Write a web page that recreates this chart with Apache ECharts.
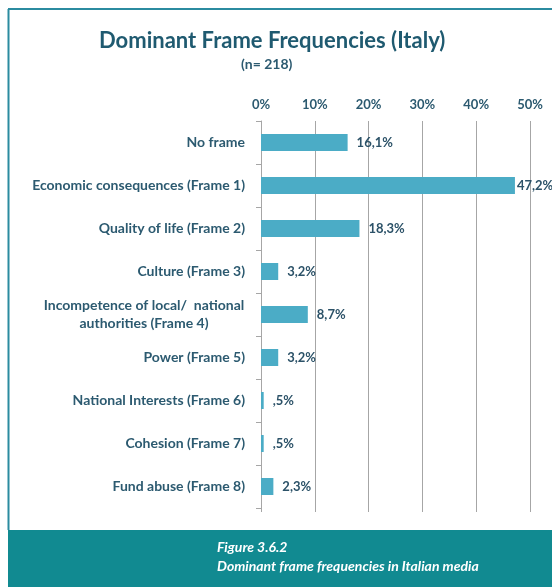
<!DOCTYPE html>
<html><head><meta charset="utf-8">
<script src="https://cdn.jsdelivr.net/npm/echarts@6/dist/echarts.min.js"></script>
<style>html,body{margin:0;padding:0;background:#fff}#c{width:552px;height:587px}</style>
</head><body><div id="c"></div>
<script>
const categories = [
  "No frame",
  "Economic consequences (Frame 1)",
  "Quality of life (Frame 2)",
  "Culture (Frame 3)",
  "Incompetence of local/  national\nauthorities (Frame 4)",
  "Power (Frame 5)",
  "National Interests (Frame 6)",
  "Cohesion (Frame 7)",
  "Fund abuse (Frame 8)"
];
const values = [16.1, 47.2, 18.3, 3.2, 8.7, 3.2, 0.5, 0.5, 2.3];
const tickValues = [0, 10, 20, 30, 40, 50];
const titleText = "Dominant Frame Frequencies (Italy)";
const subtitleText = "(n= 218)";
const figureLabel = "Figure 3.6.2";
const figureCaption = "Dominant frame frequencies in Italian media";

const FONT = "Lato";
const labelColor = "#2c5a70";
const maxV = Math.max(...values);
function fmt(v){ let s = v.toFixed(1).replace('.', ','); if (s.startsWith('0')) s = s.slice(1); return s + '%'; }

const chart = echarts.init(document.getElementById('c'), null, {renderer:'canvas'});
chart.setOption({
  animation:false,
  backgroundColor:'#fff',
  title:[
    {text:titleText, left:94, top:25, textStyle:{fontFamily:FONT, fontSize:22, fontWeight:'bold', color:'#1f5a70'}},
    {text:subtitleText, left:236, top:52, textStyle:{fontFamily:FONT, fontSize:14, fontWeight:'bold', color:'#2c5a70'}}
  ],
  grid:{left:261, right:22, top:121, bottom:79, containLabel:false},
  xAxis:[{
    type:'value', position:'top', min:tickValues[0], max:tickValues[tickValues.length-1], interval:10,
    axisLine:{show:false}, axisTick:{show:false},
    axisLabel:{formatter:'{value}%', margin:10, fontFamily:FONT, fontSize:13, fontWeight:'bold', color:labelColor},
    splitLine:{show:true, lineStyle:{color:'#a6a6a6', width:1}}
  },{
    type:'value', position:'bottom', min:tickValues[0], max:tickValues[tickValues.length-1], interval:10,
    axisLine:{show:false}, axisLabel:{show:false}, splitLine:{show:false},
    axisTick:{show:true, length:4, lineStyle:{color:'#a6a6a6'}}
  }],
  yAxis:{
    type:'category', data:categories, inverse:true,
    axisLine:{show:true, lineStyle:{color:'#a6a6a6', width:1}},
    axisTick:{show:true, length:5, lineStyle:{color:'#a6a6a6'}},
    axisLabel:{
      margin:16, fontFamily:FONT, fontSize:14, fontWeight:'bold', color:labelColor,
      formatter:function(v){
        if (v.indexOf('\n')>=0){ return v.split('\n').map(l=>'{c|'+l+'}').join('\n'); }
        return v;
      },
      rich:{c:{width:202, align:'center', fontFamily:FONT, fontSize:14, fontWeight:'bold', color:labelColor, lineHeight:18}}
    }
  },
  series:[{
    type:'bar', xAxisIndex:0, barWidth:17,
    itemStyle:{color:'#4bacc6'},
    data: values.map(v=>({value:v, label:{distance: v===maxV?2:9}})),
    label:{show:true, position:'right', formatter:p=>fmt(p.value), fontFamily:FONT, fontSize:13, fontWeight:'bold', color:'#2c5268'}
  }],
  graphic:[
    {type:'line', shape:{x1:8.5, y1:9, x2:8.5, y2:530}, style:{stroke:'#2b8ba0', lineWidth:2}},
    {type:'line', shape:{x1:8, y1:9, x2:552, y2:9}, style:{stroke:'#2b8ba0', lineWidth:2}},
    {type:'rect', shape:{x:8, y:530, width:544, height:57}, style:{fill:'#118a91'}},
    {type:'text', left:217, top:540, style:{text:figureLabel, fill:'#fff', font:'italic bold 14px '+FONT}},
    {type:'text', left:217, top:559, style:{text:figureCaption, fill:'#fff', font:'italic bold 14px '+FONT}}
  ]
});
</script></body></html>
